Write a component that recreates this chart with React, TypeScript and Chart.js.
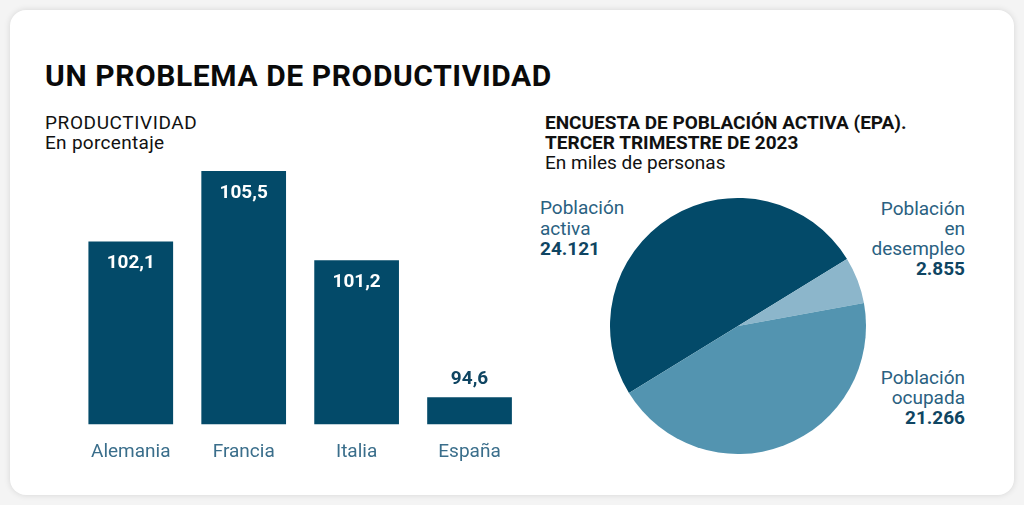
import React, { useEffect, useRef } from "react";
import { Chart, registerables } from "chart.js";

Chart.register(...registerables);

const FONT = "Roboto, 'Liberation Sans', sans-serif";

const countries = ["Alemania", "Francia", "Italia", "España"];
const productivity = [102.1, 105.5, 101.2, 94.6];

const epaLabels = ["Población activa", "Población en desempleo", "Población ocupada"];
const epaValues = [24121, 2855, 21266];

const DARK = "#034a69";
const MID = "#5394b0";
const LIGHT = "#8cb6cb";
const LABEL = "#2a6181";
const NUM = "#0f4562";
const CAT = "#3a6e8b";

const fmtDec = (v: number) => v.toFixed(1).replace(".", ",");
const fmtThousands = (v: number) => v.toString().replace(/\B(?=(\d{3})+(?!\d))/g, ".");

const barValuePlugin = {
  id: "barValues",
  afterDatasetsDraw(chart: any) {
    const ctx = chart.ctx;
    const meta = chart.getDatasetMeta(0);
    const bottom = chart.chartArea.bottom;
    ctx.save();
    ctx.font = `700 19px ${FONT}`;
    ctx.textAlign = "center";
    ctx.textBaseline = "middle";
    meta.data.forEach((bar: any, i: number) => {
      const v = chart.data.datasets[0].data[i] as number;
      const h = bottom - bar.y;
      if (h > 45) {
        ctx.fillStyle = "#ffffff";
        ctx.fillText(fmtDec(v), bar.x, bar.y + 22);
      } else {
        ctx.fillStyle = NUM;
        ctx.fillText(fmtDec(v), bar.x, bar.y - 18);
      }
    });
    ctx.restore();
  },
};

function BarChart() {
  const ref = useRef<HTMLCanvasElement>(null);
  useEffect(() => {
    const chart = new Chart(ref.current!, {
      type: "bar",
      data: {
        labels: countries,
        datasets: [
          {
            data: productivity,
            backgroundColor: DARK,
            borderWidth: 0,
            barPercentage: 0.75,
            categoryPercentage: 1,
          },
        ],
      },
      options: {
        animation: false,
        responsive: true,
        maintainAspectRatio: false,
        layout: { padding: { top: 21, bottom: 0, left: 0, right: 0 } },
        plugins: { legend: { display: false }, tooltip: { enabled: false } },
        scales: {
          y: { display: false, min: 93.3, max: 105.5 },
          x: {
            grid: { display: false, drawTicks: false },
            border: { display: false },
            ticks: { color: CAT, font: { family: FONT, size: 19 }, padding: 17 },
          },
        },
      },
      plugins: [barValuePlugin],
    });
    return () => chart.destroy();
  }, []);
  return (
    <div style={{ position: "absolute", left: 74, top: 150, width: 452, height: 331 }}>
      <canvas ref={ref} />
    </div>
  );
}

function PieChart() {
  const ref = useRef<HTMLCanvasElement>(null);
  useEffect(() => {
    const chart = new Chart(ref.current!, {
      type: "pie",
      data: {
        labels: epaLabels,
        datasets: [
          {
            data: epaValues,
            backgroundColor: [DARK, LIGHT, MID],
            borderWidth: 0,
          },
        ],
      },
      options: {
        animation: false,
        responsive: true,
        maintainAspectRatio: false,
        rotation: 238.4,
        plugins: { legend: { display: false }, tooltip: { enabled: false } },
      },
    });
    return () => chart.destroy();
  }, []);
  return (
    <div style={{ position: "absolute", left: 610, top: 198, width: 256, height: 256 }}>
      <canvas ref={ref} />
    </div>
  );
}

function T(props: {
  x: number;
  base: number;
  size: number;
  weight?: number;
  color?: string;
  align?: "left" | "right";
  spacing?: number;
  children: React.ReactNode;
}) {
  const { x, base, size, weight = 400, color = "#111", align = "left", spacing = 0, children } = props;
  const top = base - 0.84 * size;
  const style: React.CSSProperties = {
    position: "absolute",
    top,
    fontFamily: FONT,
    fontSize: size,
    fontWeight: weight,
    lineHeight: `${size}px`,
    letterSpacing: spacing,
    color,
    whiteSpace: "nowrap",
  };
  if (align === "right") style.right = 1024 - x;
  else style.left = x;
  return <div style={style}>{children}</div>;
}

export default function App() {
  return (
    <div
      style={{
        position: "fixed",
        left: 0,
        top: 0,
        width: 1024,
        height: 505,
        background: "#f4f4f4",
        overflow: "hidden",
      }}
    >
      <div
        style={{
          position: "absolute",
          left: 10,
          top: 10,
          width: 1004,
          height: 485,
          borderRadius: 16,
          background: "#ffffff",
          boxShadow: "0 0 6px rgba(0,0,0,0.13)",
        }}
      />
      <T x={45} base={86} size={30} weight={700} color="#0a0a0a" spacing={0.6}>
        UN PROBLEMA DE PRODUCTIVIDAD
      </T>
      <T x={45} base={129} size={19} color="#111" spacing={0.6}>PRODUCTIVIDAD</T>
      <T x={45} base={149} size={19} color="#111" spacing={0.3}>En porcentaje</T>

      <T x={545} base={129} size={19} weight={700} color="#111">
        ENCUESTA DE POBLACIÓN ACTIVA (EPA).
      </T>
      <T x={545} base={149} size={19} weight={700} color="#111">
        TERCER TRIMESTRE DE 2023
      </T>
      <T x={545} base={169} size={19} color="#111">En miles de personas</T>

      <T x={540} base={214} size={19} color={LABEL}>Población</T>
      <T x={540} base={235} size={19} color={LABEL}>activa</T>
      <T x={540} base={255} size={19} weight={700} color={NUM}>{fmtThousands(epaValues[0])}</T>

      <T x={965} base={215} size={19} color={LABEL} align="right">Población</T>
      <T x={965} base={235} size={19} color={LABEL} align="right">en</T>
      <T x={965} base={255} size={19} color={LABEL} align="right">desempleo</T>
      <T x={965} base={275} size={19} weight={700} color={NUM} align="right">{fmtThousands(epaValues[1])}</T>

      <T x={965} base={384} size={19} color={LABEL} align="right">Población</T>
      <T x={965} base={404} size={19} color={LABEL} align="right">ocupada</T>
      <T x={965} base={424} size={19} weight={700} color={NUM} align="right">{fmtThousands(epaValues[2])}</T>

      <BarChart />
      <PieChart />
    </div>
  );
}
